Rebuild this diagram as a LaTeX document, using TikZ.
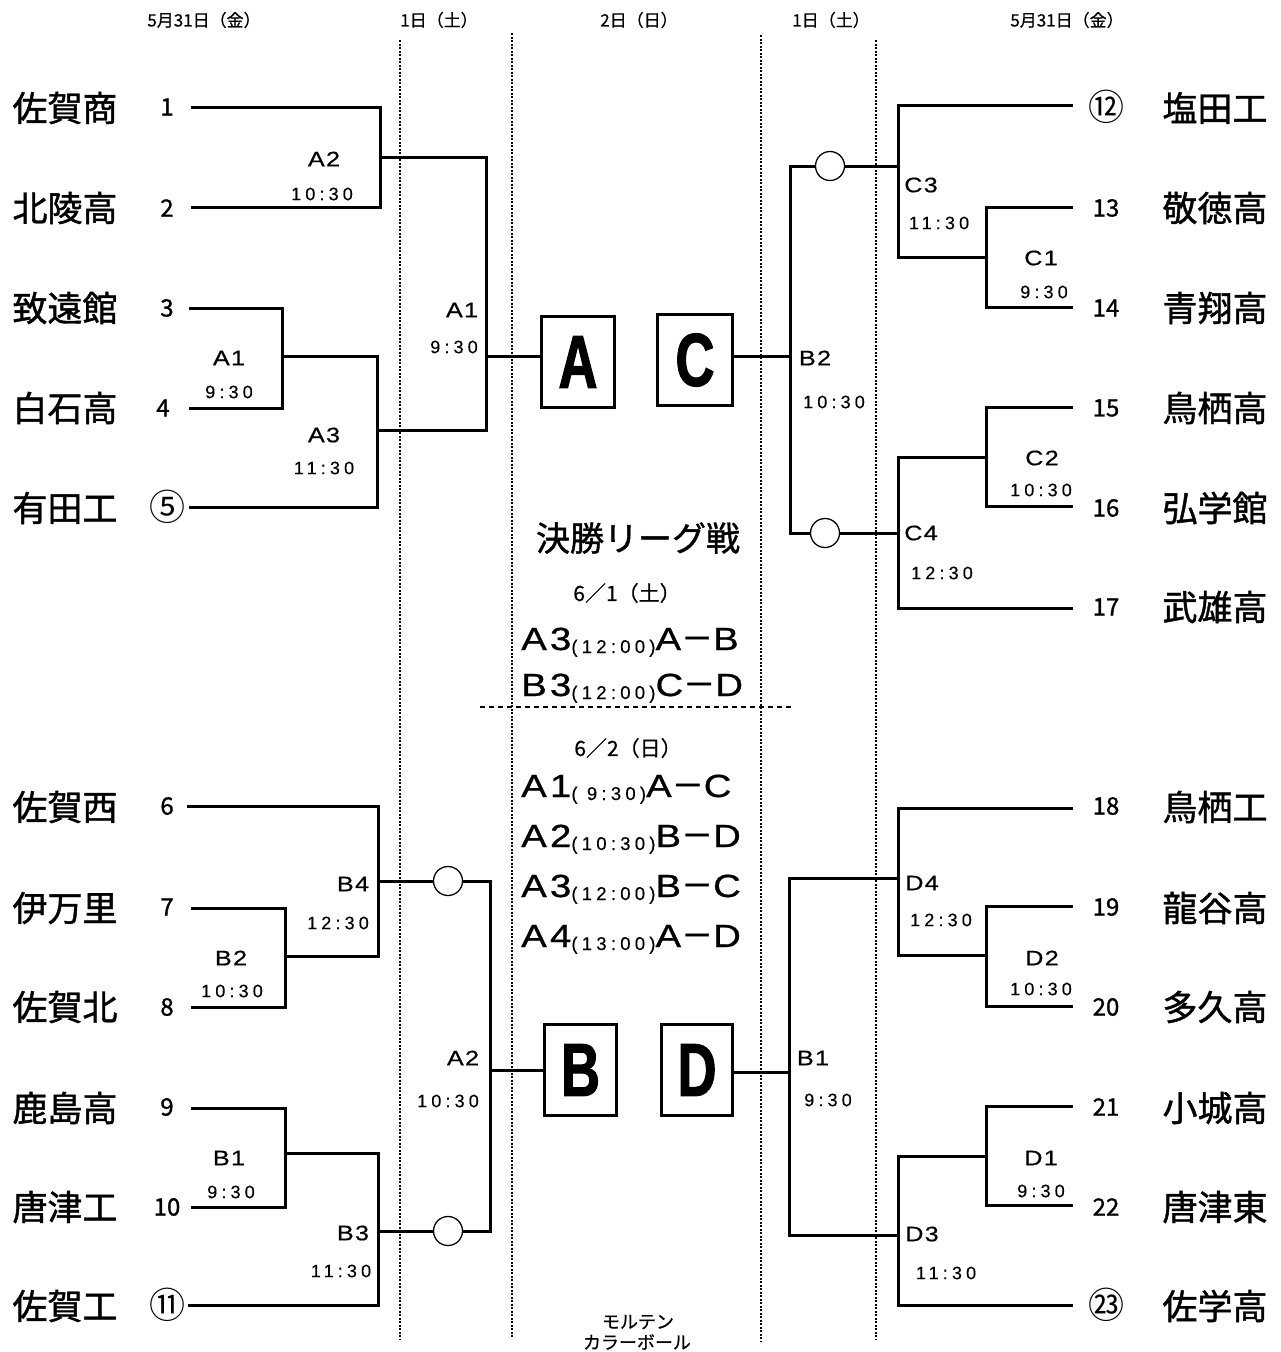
\documentclass[tikz,border=0pt]{standalone}
\usepackage{fontspec}
\setmainfont{Noto Sans CJK JP}
\newfontfamily\cjkf{Noto Sans CJK JP}
\newfontfamily\cjkm[FakeBold=0.6]{Noto Sans CJK JP}
\newfontfamily\cjkb[FakeBold=1.2]{Noto Sans CJK JP}
\newfontfamily\labf[FakeStretch=1.2,LetterSpace=6,FakeBold=0.6]{Liberation Sans}
\newfontfamily\timef[LetterSpace=23,FakeBold=0.3]{Liberation Sans}
\newfontfamily\bigf[FakeStretch=1.2,LetterSpace=10,FakeBold=0.8]{Liberation Sans}
\newfontfamily\boxf[FakeStretch=0.72,FakeBold=1.5]{Liberation Sans}
\newcommand\matchvs[2]{{\bigf\fontsize{32}{32}\selectfont #1}{\cjkb\fontsize{32}{32}\selectfont －}{\bigf\fontsize{32}{32}\selectfont #2}}
\newcommand\schedline[4]{{\bigf\fontsize{32}{32}\selectfont #1}\raisebox{-3pt}{\timef\fontsize{18.5}{18.5}\selectfont #2}\matchvs{#3}{#4}}
\tikzset{
  br/.style={line width=3pt},
  team/.style={font=\cjkb\fontsize{35}{35}\selectfont, inner sep=0},
  num/.style={font=\cjkb\fontsize{24}{24}\selectfont, inner sep=0},
  cnum/.style={font=\cjkf\fontsize{36}{36}\selectfont, inner sep=0},
  mlab/.style={font=\labf\fontsize{21}{21}\selectfont, inner sep=0},
  mtime/.style={font=\timef\fontsize{18}{18}\selectfont, inner sep=0},
  hdr/.style={font=\cjkm\fontsize{17}{17}\selectfont, inner sep=0},
  daylbl/.style={font=\cjkm\fontsize{21}{21}\selectfont, inner sep=0},
  bx/.style={draw, line width=3pt, minimum height=91pt, inner sep=0, font=\boxf\bfseries\fontsize{75}{75}\selectfont},
  ball/.style={circle, draw, fill=white, line width=1.3pt, minimum size=29pt, inner sep=0},
  dotv/.style={line width=2.8pt, dash pattern=on 2.2pt off 1.3pt},
  sched/.style={anchor=base west, inner sep=0},
}
\begin{document}
\begin{tikzpicture}[x=1pt,y=-1pt]
\useasboundingbox (0,0) rectangle (1280,1352);

% dotted day separators
\draw[dotv] (400,40) -- (400,1340);
\draw[dotv] (512,33) -- (512,1338);
\draw[dotv] (761,35) -- (761,1342);
\draw[dotv] (876,40) -- (876,1340);
\draw[line width=1.1pt, dash pattern=on 5pt off 4pt] (480,707) -- (793,707);

% headers
\node[hdr] (h1) at (204,20) {5月31日（金）};
\node[hdr] (h2) at (439,20) {1日（土）};
\node[hdr] (h3) at (639,20) {2日（日）};
\node[hdr] (h4) at (831,20) {1日（土）};
\node[hdr] (h5) at (1067,20) {5月31日（金）};

% left teams
\node[team] (t1) at (65,108) {佐賀商};
\node[team] (t2) at (65,208) {北陵高};
\node[team] (t3) at (65,308) {致遠館};
\node[team] (t4) at (65,408) {白石高};
\node[team] (t5) at (65,508) {有田工};
\node[team] (t6) at (65,807) {佐賀西};
\node[team] (t7) at (65,908) {伊万里};
\node[team] (t8) at (65,1007) {佐賀北};
\node[team] (t9) at (65,1108) {鹿島高};
\node[team] (t10) at (65,1207) {唐津工};
\node[team] (t11) at (65,1306) {佐賀工};
% right teams
\node[team] (t12) at (1215,108) {塩田工};
\node[team] (t13) at (1215,208) {敬徳高};
\node[team] (t14) at (1215,308) {青翔高};
\node[team] (t15) at (1215,408) {鳥栖高};
\node[team] (t16) at (1215,508) {弘学館};
\node[team] (t17) at (1215,607) {武雄高};
\node[team] (t18) at (1215,807) {鳥栖工};
\node[team] (t19) at (1215,908) {龍谷高};
\node[team] (t20) at (1215,1007) {多久高};
\node[team] (t21) at (1215,1108) {小城高};
\node[team] (t22) at (1215,1207) {唐津東};
\node[team] (t23) at (1215,1306) {佐学高};

% numbers
\node[num] (n1) at (167,107) {1};
\node[num] (n2) at (167,208) {2};
\node[num] (n3) at (167,308) {3};
\node[num] (n4) at (163,408) {4};
\node[cnum] (n5) at (167,507) {⑤};
\node[num] (n6) at (167,806) {6};
\node[num] (n7) at (167,907) {7};
\node[num] (n8) at (167,1007) {8};
\node[num] (n9) at (167,1107) {9};
\node[num] (n10) at (167,1207) {10};
\node[cnum] (n11) at (167,1305) {⑪};
\node[cnum] (n12) at (1106,107) {⑫};
\node[num] (n13) at (1106,208) {13};
\node[num] (n14) at (1106,308) {14};
\node[num] (n15) at (1106,408) {15};
\node[num] (n16) at (1106,508) {16};
\node[num] (n17) at (1106,607) {17};
\node[num] (n18) at (1106,806) {18};
\node[num] (n19) at (1106,907) {19};
\node[num] (n20) at (1106,1007) {20};
\node[num] (n21) at (1106,1107) {21};
\node[num] (n22) at (1106,1207) {22};
\node[cnum] (n23) at (1106,1305) {㉓};

% boxes
\node[bx, minimum width=73pt] (boxA) at (578,362) {A};
\node[bx, minimum width=75pt] (boxC) at (695,360) {C};
\node[bx, minimum width=72pt] (boxB) at (580.5,1070) {B};
\node[bx, minimum width=71pt] (boxD) at (697,1070) {D};

% bracket coordinates - left top
\coordinate (p1) at (191,107);
\coordinate (p2) at (191,207);
\coordinate (p3) at (189,308);
\coordinate (p4) at (189,408);
\coordinate (p5) at (189,507);
\coordinate (jA2L) at (380,157);
\coordinate (jA1L) at (282,356);
\coordinate (jA3L) at (377,430);
\coordinate (jA1F) at (486,356);
% left bottom
\coordinate (q6) at (187,806);
\coordinate (q7) at (191,908);
\coordinate (q8) at (191,1007);
\coordinate (q9) at (191,1108);
\coordinate (q10) at (191,1207);
\coordinate (q11) at (188,1305);
\coordinate (jB2L) at (285,956);
\coordinate (jB4L) at (378,881);
\coordinate (jB1L) at (285,1153);
\coordinate (jB3L) at (378,1231);
\coordinate (jA2F) at (490,1070);
% right top
\coordinate (r12) at (1073,105);
\coordinate (r13) at (1073,207);
\coordinate (r14) at (1073,307);
\coordinate (r15) at (1073,407);
\coordinate (r16) at (1073,506);
\coordinate (r17) at (1073,608);
\coordinate (jC1) at (986,257);
\coordinate (jC3) at (898,166);
\coordinate (jC2) at (986,457);
\coordinate (jC4) at (898,533);
\coordinate (jB2R) at (790,356);
% right bottom
\coordinate (r18) at (1073,808);
\coordinate (r19) at (1073,906);
\coordinate (r20) at (1073,1006);
\coordinate (r21) at (1073,1106);
\coordinate (r22) at (1073,1205);
\coordinate (r23) at (1073,1305);
\coordinate (jD2) at (986,955);
\coordinate (jD4) at (898,878);
\coordinate (jD1) at (986,1156);
\coordinate (jD3) at (898,1235);
\coordinate (jB1R) at (789,1072);

% bracket lines
\draw[br] (p1) -| (jA2L) |- (p2);
\draw[br] (p3) -| (jA1L) |- (p4);
\draw[br] (jA1L) -| (jA3L) |- (p5);
\draw[br] (jA2L) -| (jA1F) |- (jA3L);
\draw[br] (jA1F) -- (jA1F -| boxA.west);

\draw[br] (q7) -| (jB2L) |- (q8);
\draw[br] (jB2L) -| (jB4L) |- (q6);
\draw[br] (q9) -| (jB1L) |- (q10);
\draw[br] (jB1L) -| (jB3L) |- (q11);
\draw[br] (jB4L) -| (jA2F) |- (jB3L);
\draw[br] (jA2F) -- (jA2F -| boxB.west);

\draw[br] (r13) -| (jC1) |- (r14);
\draw[br] (jC1) -| (jC3) |- (r12);
\draw[br] (r15) -| (jC2) |- (r16);
\draw[br] (jC2) -| (jC4) |- (r17);
\draw[br] (jC3) -| (jB2R) |- (jC4);
\draw[br] (jB2R) -- (jB2R -| boxC.east);

\draw[br] (r19) -| (jD2) |- (r20);
\draw[br] (jD2) -| (jD4) |- (r18);
\draw[br] (r21) -| (jD1) |- (r22);
\draw[br] (jD1) -| (jD3) |- (r23);
\draw[br] (jD4) -| (jB1R) |- (jD3);
\draw[br] (jB1R) -- (jB1R -| boxD.east);

% circles
\node[ball] (c1) at (830,166) {};
\node[ball] (c2) at (825,533) {};
\node[ball] (c3) at (448,881) {};
\node[ball] (c4) at (448,1231) {};

% match labels left top
\node[mlab] (mA2) at (324,159) {A2};
\node[mtime] (tA2) at (322,194) {10:30};
\node[mlab] (mA1a) at (229,358) {A1};
\node[mtime] (tA1a) at (229,392) {9:30};
\node[mlab] (mA3) at (324,435) {A3};
\node[mtime] (tA3) at (324,468) {11:30};
\node[mlab] (mA1b) at (462,310) {A1};
\node[mtime] (tA1b) at (454,347) {9:30};
% left bottom
\node[mlab] (mB4) at (353,884) {B4};
\node[mtime] (tB4) at (338,923) {12:30};
\node[mlab] (mB2) at (231,958) {B2};
\node[mtime] (tB2) at (232,991) {10:30};
\node[mlab] (mB1) at (229,1158) {B1};
\node[mtime] (tB1) at (231,1192) {9:30};
\node[mlab] (mB3) at (353,1233) {B3};
\node[mtime] (tB3) at (341,1271) {11:30};
\node[mlab] (mA2b) at (463,1058) {A2};
\node[mtime] (tA2b) at (448,1101) {10:30};
% right top
\node[mlab] (mC3) at (921,185) {C3};
\node[mtime] (tC3) at (939,223) {11:30};
\node[mlab] (mC1) at (1041,258) {C1};
\node[mtime] (tC1) at (1044,292) {9:30};
\node[mlab] (mB2r) at (815,358) {B2};
\node[mtime] (tB2r) at (834,402) {10:30};
\node[mlab] (mC2) at (1042,458) {C2};
\node[mtime] (tC2) at (1041,490) {10:30};
\node[mlab] (mC4) at (921,533) {C4};
\node[mtime] (tC4) at (942,573) {12:30};
% right bottom
\node[mlab] (mD4) at (922,883) {D4};
\node[mtime] (tD4) at (941,920) {12:30};
\node[mlab] (mD2) at (1042,958) {D2};
\node[mtime] (tD2) at (1041,989) {10:30};
\node[mlab] (mB1r) at (813,1058) {B1};
\node[mtime] (tB1r) at (828,1100) {9:30};
\node[mlab] (mD1) at (1041,1158) {D1};
\node[mtime] (tD1) at (1041,1191) {9:30};
\node[mlab] (mD3) at (922,1234) {D3};
\node[mtime] (tD3) at (946,1273) {11:30};

% final league
\node[font=\cjkb\fontsize{34}{34}\selectfont, inner sep=0] (ttl) at (638,538) {決勝リーグ戦};
\node[daylbl] (d1) at (627,593) {6／1（土）};
\node[sched] (s1) at (521,650) {\schedline{A3}{(12:00)}{A}{B}};
\node[sched] (s2) at (521,696) {\schedline{B3}{(12:00)}{C}{D}};
\node[daylbl] (d2) at (628,748) {6／2（日）};
\node[sched] (s3) at (521,797) {\schedline{A1}{( 9:30)}{A}{C}};
\node[sched] (s4) at (521,847) {\schedline{A2}{(10:30)}{B}{D}};
\node[sched] (s5) at (521,897) {\schedline{A3}{(12:00)}{B}{C}};
\node[sched] (s6) at (521,947) {\schedline{A4}{(13:00)}{A}{D}};

% footer
\node[font=\cjkm\fontsize{18}{18}\selectfont, inner sep=0] (f1) at (638,1322) {モルテン};
\node[font=\cjkm\fontsize{18}{18}\selectfont, inner sep=0] (f2) at (637,1342) {カラーボール};
\end{tikzpicture}
\end{document}
